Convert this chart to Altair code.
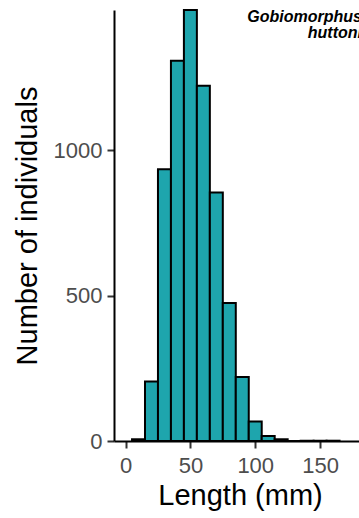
import altair as alt
import pandas as pd

# Length-frequency of Gobiomorphus huttoni, 10 mm bins (bin centres in mm)
length_mid = [10, 20, 30, 40, 50, 60, 70, 80, 90, 100, 110, 120, 130, 140, 150, 160]
counts = [6, 205, 935, 1308, 1483, 1222, 855, 475, 220, 67, 17, 6, 0, 1, 1, 1]
species = "Gobiomorphus huttoni"

BIN_WIDTH = 10
FONT = "Liberation Sans"

hist = pd.DataFrame({"mid": length_mid, "n": counts})

x_scale = alt.Scale(domain=[-8.9, 180], nice=False, zero=False)
y_scale = alt.Scale(domain=[0, 1483], nice=False)

bars = (
    alt.Chart(hist)
    .transform_calculate(lo=f"datum.mid - {BIN_WIDTH / 2}", hi=f"datum.mid + {BIN_WIDTH / 2}")
    .mark_bar(fill="#1ea5ad", stroke="black", strokeWidth=2)
    .encode(
        x=alt.X(
            "lo:Q",
            scale=x_scale,
            axis=alt.Axis(
                values=[0, 50, 100, 150],
                title="Length (mm)",
                labelBaseline="alphabetic",
                labelPadding=24,
                titleX=126,
                titleY=63,
                titleAlign="center",
                titleBaseline="alphabetic",
            ),
        ),
        x2="hi:Q",
        y=alt.Y(
            "n:Q",
            scale=y_scale,
            axis=alt.Axis(
                values=[0, 500, 1000],
                format="d",
                title="Number of individuals",
                labelPadding=5,
                titleX=-78,
                titleY=215.5,
                titleAngle=270,
                titleAlign="center",
                titleBaseline="alphabetic",
            ),
        ),
        y2=alt.datum(0),
    )
)

label = (
    alt.Chart(pd.DataFrame({"label": [species]}))
    .mark_text(
        align="right",
        baseline="alphabetic",
        font=FONT,
        fontSize=16,
        fontStyle="italic",
        fontWeight="bold",
        lineBreak=" ",
        lineHeight=16,
        color="black",
    )
    .encode(text="label:N", x=alt.value(248), y=alt.value(12))
)

chart = (
    alt.layer(bars, label)
    .properties(
        width=245,
        height=431,
        autosize=alt.AutoSizeParams(type="none"),
        padding={"left": 114, "top": 10, "right": 0, "bottom": 77},
        background="white",
    )
    .configure_view(stroke=None)
    .configure_axis(
        grid=False,
        domainColor="black",
        domainWidth=2,
        tickColor="#333333",
        tickWidth=2,
        tickSize=7,
        labelFont=FONT,
        labelFontSize=22,
        labelColor="#4d4d4d",
        titleFont=FONT,
        titleFontSize=29,
        titleFontWeight="normal",
        titleColor="black",
    )
)

chart.save("out.html", embed_options={"renderer": "svg", "actions": False})
